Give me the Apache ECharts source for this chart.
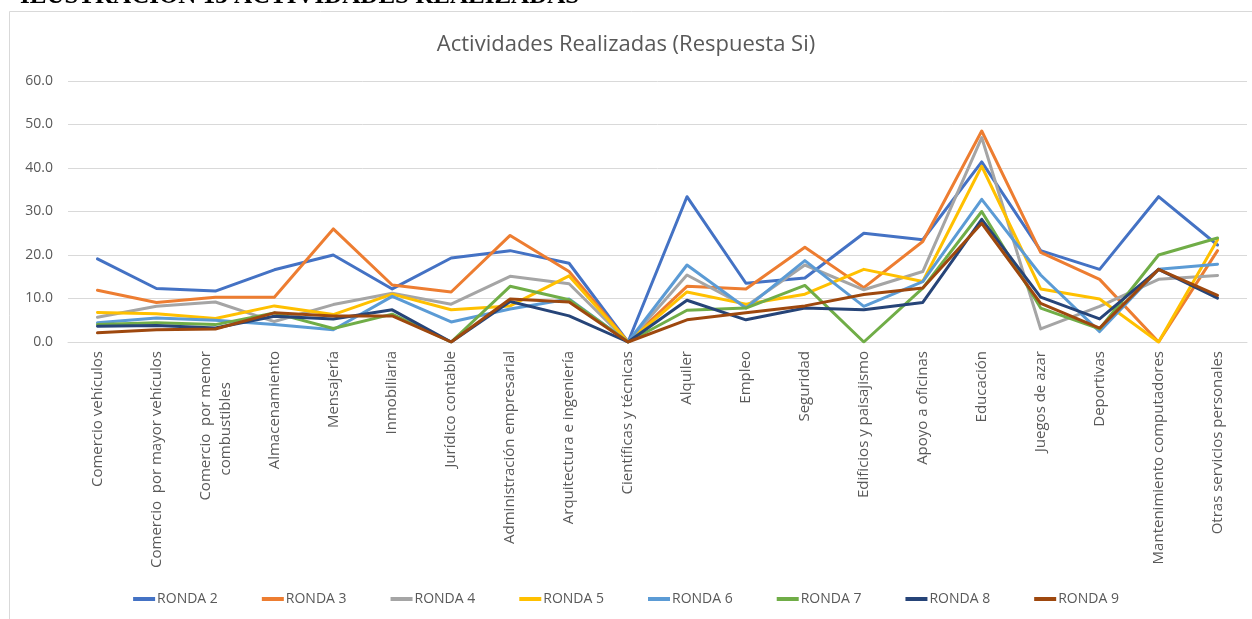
<!DOCTYPE html>
<html>
<head>
<meta charset="utf-8">
<script src="https://cdn.jsdelivr.net/npm/echarts@6/dist/echarts.min.js"></script>
<style>
html,body{margin:0;padding:0;background:#fff;}
#chart{width:1252px;height:619px;}
</style>
</head>
<body>
<div id="chart"></div>
<script>
const categories = [
  "Comercio vehículos",
  "Comercio  por mayor vehículos",
  "Comercio  por menor\ncombustibles        ",
  "Almacenamiento",
  "Mensajería",
  "Inmobiliaria",
  "Jurídico contable",
  "Administración empresarial",
  "Arquitectura e ingeniería",
  "Científicas y técnicas",
  "Alquiler",
  "Empleo",
  "Seguridad",
  "Edificios y paisajismo",
  "Apoyo a oficinas",
  "Educación",
  "Juegos de azar",
  "Deportivas",
  "Mantenimiento computadores",
  "Otras servicios personales"
];
const seriesNames = ["RONDA 2","RONDA 3","RONDA 4","RONDA 5","RONDA 6","RONDA 7","RONDA 8","RONDA 9"];
const ronda2 = [19.1,12.3,11.7,16.6,20.0,12.2,19.3,21.0,18.1,0,33.4,13.5,14.7,25.0,23.5,41.4,21.0,16.7,33.4,22.3];
const ronda3 = [11.9,9.1,10.3,10.3,26.0,13.1,11.5,24.5,16.2,0,12.8,12.2,21.8,12.5,23.1,48.5,20.6,14.4,0,21.0];
const ronda4 = [5.7,8.2,9.2,4.7,8.6,11.2,8.7,15.1,13.4,0,15.4,8.2,17.7,12.0,16.2,47.0,3.0,8.2,14.4,15.3];
const ronda5 = [6.8,6.5,5.4,8.3,6.3,11.0,7.4,8.3,15.2,0,11.5,8.7,11.0,16.7,13.9,40.4,12.2,9.9,0,23.5];
const ronda6 = [4.4,5.5,5.0,4.0,2.8,10.5,4.6,7.6,9.9,0,17.7,7.8,18.7,8.2,13.9,32.8,15.4,2.4,16.7,17.9];
const ronda7 = [4.0,4.4,4.0,6.7,3.1,6.4,0,12.8,9.7,0,7.3,7.8,13.0,0,12.4,30.0,7.8,3.0,20.0,23.9];
const ronda8 = [3.6,3.8,3.2,5.9,5.3,7.4,0,9.3,6.0,0,9.6,5.1,7.8,7.4,9.1,28.2,10.3,5.3,16.7,10.1];
const ronda9 = [2.1,2.8,3.0,6.7,6.0,6.0,0,9.9,9.2,0,5.1,6.7,8.3,10.9,12.4,27.3,8.9,3.2,16.7,10.7];
const yTicks = {min:0, max:60, interval:10};
const colors = ["#4472C4","#ED7D31","#A5A5A5","#FFC000","#5B9BD5","#70AD47","#264478","#9E480E"];

const allData = [ronda2,ronda3,ronda4,ronda5,ronda6,ronda7,ronda8,ronda9];
const chart = echarts.init(document.getElementById('chart'));
const txt = '#595959';
const font = '"Open Sans", "Liberation Sans", sans-serif';
chart.setOption({
  animation:false,
  color: colors,
  title:{
    text:'Actividades Realizadas (Respuesta Si)',
    left:'center', top:29,
    textStyle:{color:txt, fontSize:22, fontWeight:'normal', fontFamily:font}
  },
  graphic:[
    {type:'rect', shape:{x:9.5,y:11.5,width:1300,height:700}, style:{fill:'none',stroke:'#D9D9D9',lineWidth:1}, silent:true},
    {type:'text', x:20, y:-16, style:{text:'ILUSTRACIÓN 13 ACTIVIDADES REALIZADAS', font:'bold 25px "Liberation Serif", serif', fill:'#000'}, silent:true}
  ],
  legend:{
    data: seriesNames,
    bottom:8, left:'center',
    itemWidth:22, itemHeight:4, itemGap:44,
    icon:'rect',
    textStyle:{color:txt, fontSize:14, fontFamily:font, padding:[0,0,0,-3]}
  },
  grid:{left:68, right:5, top:81, bottom:277, containLabel:false},
  xAxis:{
    type:'category',
    data: categories,
    boundaryGap:true,
    axisLine:{lineStyle:{color:'#D9D9D9', width:1}},
    axisTick:{show:false},
    axisLabel:{rotate:90, interval:0, color:txt, fontSize:15, fontFamily:font, margin:9, lineHeight:20}
  },
  yAxis:{
    type:'value',
    min:yTicks.min, max:yTicks.max, interval:yTicks.interval,
    axisLine:{show:false}, axisTick:{show:false},
    splitLine:{lineStyle:{color:'#D9D9D9', width:1}},
    axisLabel:{color:txt, fontSize:14, fontFamily:font, margin:15, formatter:v=>v.toFixed(1)}
  },
  series: seriesNames.map((n,i)=>({
    name:n, type:'line', data: allData[i],
    showSymbol:false, symbol:'none',
    lineStyle:{width:3, cap:'round', join:'round'},
    emphasis:{disabled:true}
  }))
});
</script>
</body>
</html>
